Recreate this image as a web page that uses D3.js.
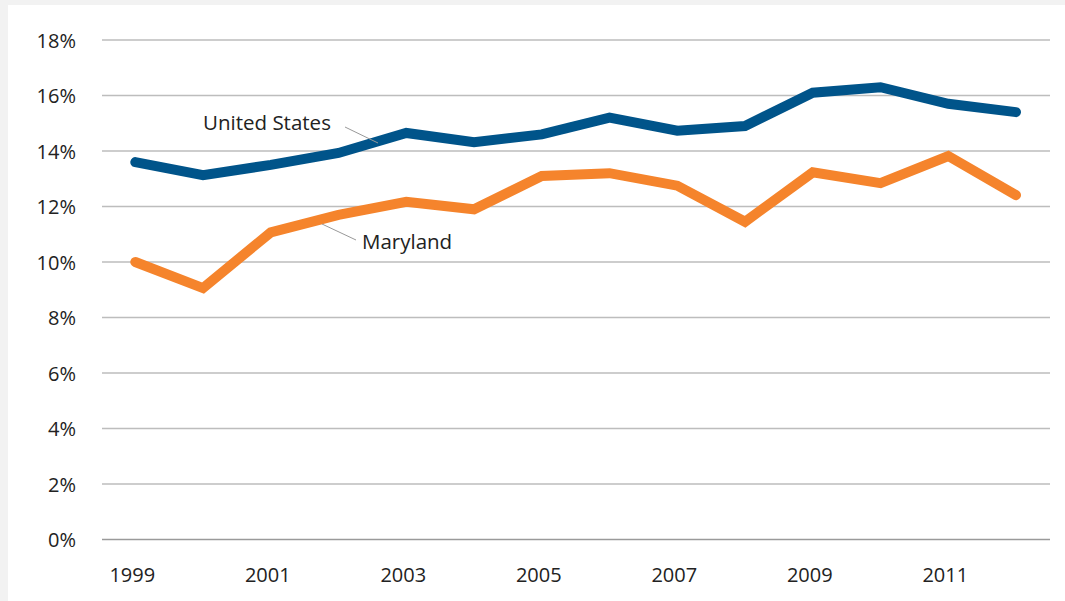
<!DOCTYPE html>
<html><head><meta charset="utf-8">
<script src="https://cdn.jsdelivr.net/npm/d3@7"></script>
<style>
html,body{margin:0;padding:0;background:#f2f2f2;}
svg{display:block;}
text{font-family:"Open Sans","DejaVu Sans",sans-serif;fill:#222;}
</style></head>
<body>
<svg id="c" width="1065" height="601"></svg>
<script>
const years = [1999,2000,2001,2002,2003,2004,2005,2006,2007,2008,2009,2010,2011,2012];
const usValues = [13.6,13.13,13.5,13.93,14.65,14.32,14.6,15.2,14.73,14.9,16.1,16.3,15.7,15.4];
const mdValues = [10.0,9.06,11.07,11.7,12.17,11.9,13.1,13.2,12.75,11.45,13.23,12.84,13.82,12.41];
const yTicks = [0,2,4,6,8,10,12,14,16,18];
const xTickLabels = [1999,2001,2003,2005,2007,2009,2011];
const seriesNames = ["United States","Maryland"];

const svg = d3.select("#c");
svg.append("rect").attr("x",8).attr("y",5).attr("width",1057).attr("height",596).attr("fill","#fff");

const x = d3.scaleLinear().domain([1999,2012]).range([135.3,1016]);
const y = d3.scaleLinear().domain([0,18]).range([539.5,40]);

svg.append("g").selectAll("line").data(yTicks).join("line")
  .attr("x1",102).attr("x2",1050)
  .attr("y1",d=>y(d)).attr("y2",d=>y(d))
  .attr("stroke",d=>d===0?"#9a9a9a":"#bdbdbd").attr("stroke-width",1.5);

svg.append("g").selectAll("text").data(yTicks).join("text")
  .attr("x",76).attr("y",d=>y(d)).attr("dy","0.38em")
  .attr("text-anchor","end").attr("font-size",20)
  .text(d=>d+"%");

svg.append("g").selectAll("text").data(xTickLabels).join("text")
  .attr("x",d=>x(d)-3).attr("y",582)
  .attr("text-anchor","middle").attr("font-size",20)
  .text(d=>d);

const line = d3.line().x((d,i)=>x(years[i])).y(d=>y(d));

svg.append("path").datum(mdValues).attr("d",line)
  .attr("fill","none").attr("stroke","#f5842c").attr("stroke-width",10)
  .attr("stroke-linecap","round").attr("stroke-linejoin","miter");
svg.append("path").datum(usValues).attr("d",line)
  .attr("fill","none").attr("stroke","#00548a").attr("stroke-width",10)
  .attr("stroke-linecap","round").attr("stroke-linejoin","miter");

svg.append("line").attr("x1",345).attr("y1",127).attr("x2",378).attr("y2",143)
  .attr("stroke","#999").attr("stroke-width",1);
svg.append("text").attr("x",203).attr("y",130).attr("font-size",20.5).text(seriesNames[0]);

svg.append("line").attr("x1",322).attr("y1",224).attr("x2",356).attr("y2",240)
  .attr("stroke","#999").attr("stroke-width",1);
svg.append("text").attr("x",362).attr("y",249).attr("font-size",20.5).text(seriesNames[1]);
</script>
</body></html>
